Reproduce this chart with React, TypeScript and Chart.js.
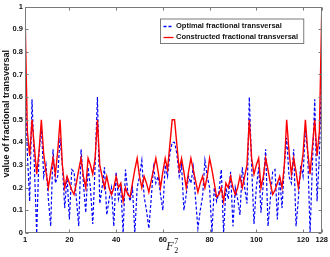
import React, { useEffect, useRef } from "react";
import { Chart, registerables } from "chart.js";

Chart.register(...registerables);

// x positions: elements of F_2^7 numbered 1..128
const indices: number[] = Array.from({ length: 128 }, (_, i) => i + 1);

const xTickValues = [1, 20, 40, 60, 80, 100, 120, 128];
const yTickValues = [0, 0.1, 0.2, 0.3, 0.4, 0.5, 0.6, 0.7, 0.8, 0.9, 1];

const optimalValues = [
  0.75, 0.35, 0.14, 0.59, 0.3, 0.0, 0.35, 0.47, 0.25, 0.3,
  0.15, 0.03, 0.37, 0.22, 0.25, 0.42, 0.3, 0.11, 0.25, 0.06,
  0.28, 0.27, 0.15, 0.03, 0.37, 0.22, 0.09, 0.29, 0.2, 0.04,
  0.3, 0.6, 0.13, 0.2, 0.29, 0.08, 0.15, 0.2, 0.03, 0.27,
  0.15, 0.2, 0.0, 0.28, 0.18, 0.14, 0.2, 0.0, 0.2, 0.25,
  0.32, 0.16, 0.1, 0.02, 0.15, 0.29, 0.22, 0.25, 0.17, 0.1,
  0.3, 0.25, 0.35, 0.4,
  0.4, 0.35, 0.25, 0.3, 0.1, 0.17, 0.25, 0.22,
  0.29, 0.15, 0.02, 0.1, 0.16, 0.32, 0.25, 0.2,
  0.0, 0.2, 0.14, 0.18, 0.28, 0.0, 0.2, 0.15,
  0.27, 0.03, 0.2, 0.15, 0.08, 0.29, 0.2, 0.13,
  0.6, 0.3, 0.04, 0.2, 0.29, 0.09, 0.22, 0.37,
  0.03, 0.15, 0.27, 0.28, 0.06, 0.25, 0.11, 0.3,
  0.42, 0.25, 0.22, 0.37, 0.03, 0.15, 0.3, 0.25,
  0.47, 0.35, 0.0, 0.3, 0.59, 0.14, 0.35, 0.75,
];

const constructedValues = [
  0.98, 0.45, 0.34, 0.5, 0.38, 0.26, 0.36, 0.5, 0.35, 0.27,
  0.2, 0.27, 0.33, 0.26, 0.36, 0.5, 0.3, 0.2, 0.25, 0.22,
  0.19, 0.17, 0.22, 0.28, 0.33, 0.25, 0.2, 0.33, 0.3, 0.26,
  0.33, 0.5, 0.3, 0.25, 0.2, 0.25, 0.2, 0.17, 0.2, 0.25,
  0.2, 0.22, 0.14, 0.2, 0.17, 0.16, 0.22, 0.28, 0.33, 0.25,
  0.2, 0.25, 0.22, 0.18, 0.23, 0.28, 0.33, 0.27, 0.2, 0.27,
  0.33, 0.28, 0.39, 0.5,
  0.5, 0.39, 0.28, 0.33, 0.27, 0.2, 0.27, 0.33,
  0.28, 0.23, 0.18, 0.22, 0.25, 0.2, 0.25, 0.33,
  0.28, 0.22, 0.16, 0.17, 0.2, 0.14, 0.22, 0.2,
  0.25, 0.2, 0.17, 0.2, 0.25, 0.2, 0.25, 0.3,
  0.5, 0.33, 0.26, 0.3, 0.33, 0.2, 0.25, 0.33,
  0.28, 0.22, 0.17, 0.19, 0.22, 0.25, 0.2, 0.3,
  0.5, 0.36, 0.26, 0.33, 0.27, 0.2, 0.27, 0.35,
  0.5, 0.36, 0.26, 0.38, 0.5, 0.34, 0.45, 0.98,
];

const seriesNames = ["Optimal fractional transversal", "Constructed fractional transversal"];
const yTitle = "value of fractional transversal";

const FONT = '"Liberation Sans", Arial, sans-serif';
const BLUE = "#0000ff";
const RED = "#ff0000";
const BLUE_DASH = [3, 2];
const FRAME = "#7a7a7a";

const decorPlugin = {
  id: "decor",
  afterDraw(chart: any) {
    const { ctx, chartArea: a, scales } = chart;
    const xs = scales.x;
    const ys = scales.y;
    ctx.save();
    // frame
    ctx.strokeStyle = FRAME;
    ctx.lineWidth = 1;
    const L = Math.round(a.left) + 0.5;
    const R = Math.round(a.right) - 0.5;
    const T = Math.round(a.top) + 0.5;
    const B = Math.round(a.bottom) - 0.5;
    ctx.strokeRect(L, T, R - L, B - T);
    // inner ticks on all sides
    ctx.beginPath();
    xTickValues.forEach((v) => {
      const px = Math.round(xs.getPixelForValue(v)) + 0.5;
      ctx.moveTo(px, B);
      ctx.lineTo(px, B - 3);
      ctx.moveTo(px, T);
      ctx.lineTo(px, T + 3);
    });
    yTickValues.forEach((v) => {
      const py = Math.round(ys.getPixelForValue(v)) + 0.5;
      ctx.moveTo(L, py);
      ctx.lineTo(L + 3, py);
      ctx.moveTo(R, py);
      ctx.lineTo(R - 3, py);
    });
    ctx.stroke();

    // legend
    const lx = a.right - 18;
    const lLeft = 160.5;
    const lTop = a.top + 12.5;
    const lBottom = lTop + 24.5;
    ctx.fillStyle = "#ffffff";
    ctx.fillRect(lLeft, lTop, lx - lLeft, lBottom - lTop);
    ctx.strokeStyle = FRAME;
    ctx.strokeRect(lLeft, lTop, lx - lLeft, lBottom - lTop);
    const rows = [lTop + 6.5, lTop + 17.5];
    ctx.font = `bold 7.5px ${FONT}`;
    ctx.textBaseline = "middle";
    ctx.textAlign = "left";
    seriesNames.forEach((name, i) => {
      ctx.beginPath();
      ctx.strokeStyle = i === 0 ? BLUE : RED;
      ctx.lineWidth = 1.3;
      ctx.setLineDash(i === 0 ? BLUE_DASH : []);
      ctx.moveTo(lLeft + 3, Math.round(rows[i]) + 0.5);
      ctx.lineTo(lLeft + 13, Math.round(rows[i]) + 0.5);
      ctx.stroke();
      ctx.setLineDash([]);
      ctx.fillStyle = "#111";
      ctx.fillText(name, lLeft + 15.5, rows[i]);
    });

    // y title
    ctx.save();
    ctx.translate(6.5, (a.top + a.bottom) / 2 - 6);
    ctx.rotate(-Math.PI / 2);
    ctx.font = `bold 9px ${FONT}`;
    ctx.textAlign = "center";
    ctx.textBaseline = "middle";
    ctx.fillStyle = "#111";
    ctx.fillText(yTitle, 0, 0);
    ctx.restore();

    // x title F_2^7
    const cx = (a.left + a.right) / 2;
    ctx.fillStyle = "#111";
    ctx.textBaseline = "alphabetic";
    ctx.textAlign = "left";
    ctx.font = `italic 12px "Liberation Serif", serif`;
    const fx = cx - 7;
    ctx.fillText("F", fx, 250);
    const fw = ctx.measureText("F").width;
    ctx.font = `8px "Liberation Serif", serif`;
    ctx.fillText("2", fx + fw + 0.5, 253);
    ctx.fillText("7", fx + fw + 0.5, 244);
    ctx.restore();
  },
};

export default function App() {
  const ref = useRef<HTMLCanvasElement | null>(null);
  useEffect(() => {
    document.body.style.margin = "0";
    if (!ref.current) return;
    const chart = new Chart(ref.current, {
      type: "line",
      data: {
        labels: indices,
        datasets: [
          {
            label: seriesNames[1],
            data: indices.map((x, i) => ({ x, y: constructedValues[i] })),
            borderColor: RED,
            borderWidth: 1.4,
            pointRadius: 0,
            tension: 0,
            fill: false,
            order: 0,
          },
          {
            label: seriesNames[0],
            data: indices.map((x, i) => ({ x, y: optimalValues[i] })),
            borderColor: BLUE,
            borderWidth: 1.2,
            borderDash: BLUE_DASH,
            pointRadius: 0,
            tension: 0,
            fill: false,
            order: 1,
          },
        ],
      },
      options: {
        animation: false,
        responsive: false,
        devicePixelRatio: 1,
        layout: { padding: { top: 3, right: 7, left: 0, bottom: 0 } },
        plugins: { legend: { display: false }, tooltip: { enabled: false }, title: { display: false } },
        scales: {
          x: {
            type: "linear",
            min: 1,
            max: 128,
            afterBuildTicks: (s: any) => {
              s.ticks = xTickValues.map((v) => ({ value: v }));
            },
            afterFit: (s: any) => {
              s.height = 24;
            },
            grid: { display: false, drawTicks: false },
            border: { display: false },
            ticks: {
              autoSkip: false,
              maxRotation: 0,
              padding: 2,
              color: "#111",
              font: { family: FONT, size: 7.5, weight: "bold" },
              callback: (v: any) => String(v),
            },
          },
          y: {
            type: "linear",
            min: 0,
            max: 1,
            afterBuildTicks: (s: any) => {
              s.ticks = yTickValues.map((v) => ({ value: v }));
            },
            afterFit: (s: any) => {
              s.width = 25;
            },
            grid: { display: false, drawTicks: false },
            border: { display: false },
            ticks: {
              autoSkip: false,
              padding: 2,
              color: "#111",
              font: { family: FONT, size: 7.5, weight: "bold" },
              callback: (v: any) => (v === 0 ? "0" : v === 1 ? "1" : Number(v).toFixed(1)),
            },
          },
        },
      },
      plugins: [decorPlugin],
    });
    return () => chart.destroy();
  }, []);
  return (
    <div style={{ position: "absolute", left: 0, top: 0, width: 330, height: 257, background: "#fff" }}>
      <canvas ref={ref} width={330} height={257} style={{ display: "block", width: 330, height: 257 }} />
    </div>
  );
}
